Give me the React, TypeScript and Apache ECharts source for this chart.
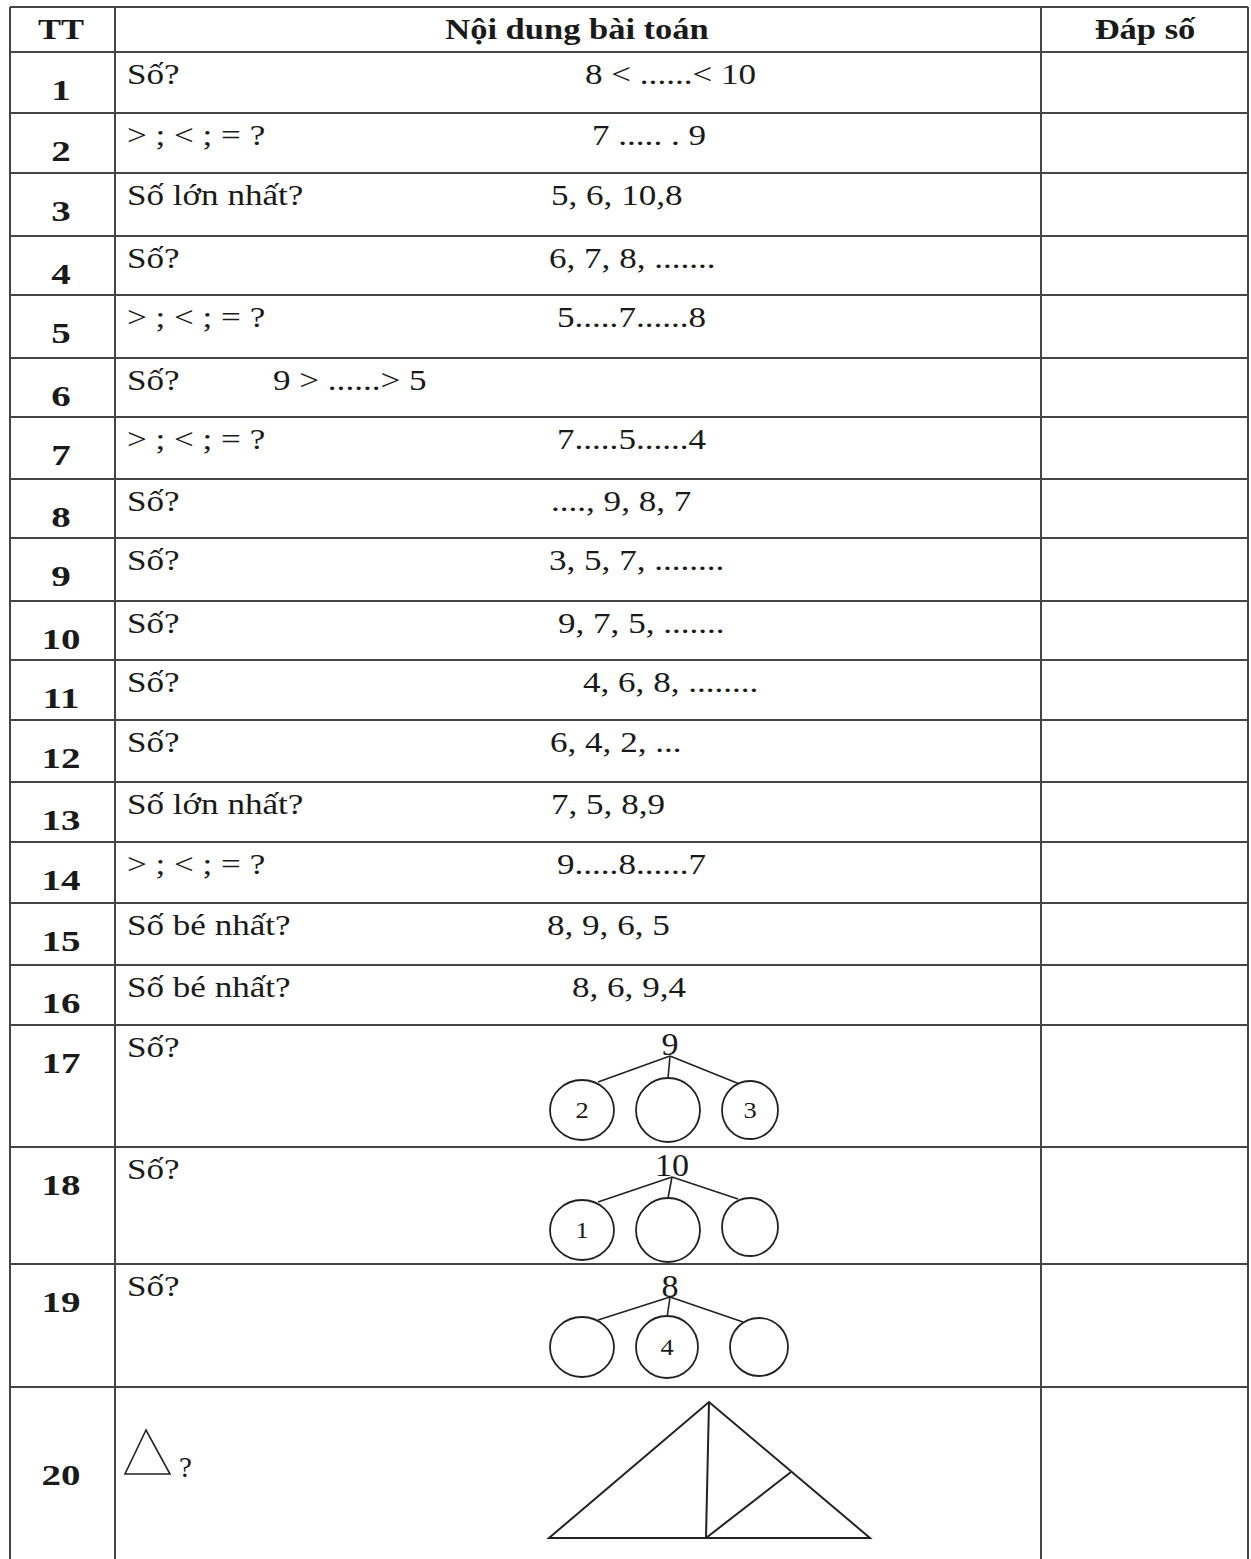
import React, { useEffect, useRef } from "react";
import * as echarts from "echarts";

// ---------- data ----------
const HEADERS = ["TT", "Nội dung bài toán", "Đáp số"];
const ROW_NUMBERS = ["1", "2", "3", "4", "5", "6", "7", "8", "9", "10", "11", "12", "13", "14", "15", "16", "17", "18", "19", "20"];
const PROMPTS = [
  "Số?", "> ; < ; = ?", "Số lớn nhất?", "Số?", "> ; < ; = ?",
  "Số?", "> ; < ; = ?", "Số?", "Số?", "Số?",
  "Số?", "Số?", "Số lớn nhất?", "> ; < ; = ?", "Số bé nhất?",
  "Số bé nhất?", "Số?", "Số?", "Số?", "",
];
const EXPRESSIONS = [
  "8 < ......< 10", "7 ..... . 9", "5, 6, 10,8", "6, 7, 8, .......", "5.....7......8",
  "9 > ......> 5", "7.....5......4", "...., 9, 8, 7", "3, 5, 7, ........", "9, 7, 5, .......",
  "4, 6, 8, ........", "6, 4, 2, ...", "7, 5, 8,9", "9.....8......7", "8, 9, 6, 5",
  "8, 6, 9,4", "", "", "", "",
];
const TREE_ROOTS = ["9", "10", "8"];
const TREE_LEAVES = [["2", "", "3"], ["1", "", ""], ["", "4", ""]];
const SHAPE_QUESTION = "?";

// ---------- layout ----------
const ROW_LINES = [7, 52, 113, 173, 236, 295, 358, 417, 479, 538, 601, 660, 720, 782, 842, 903, 965, 1025, 1147, 1264, 1387];
const COL_LINES = [10, 115, 1041, 1248];
const PAGE_BOTTOM = 1559;
const EXPR_X = [585, 592, 551, 549, 557, 273, 557, 551, 549, 558, 583, 550, 551, 557, 547, 572, 0, 0, 0, 0];
const HEADER_X = [61, 577, 1145];
const TREE_LAYOUT = [
  { label: [670, 1045], apex: [670, 1056], circles: [[582, 1110, 32, 30], [668, 1110, 32, 32], [750, 1110, 28, 29]], ends: [[598, 1082], [668, 1078], [742, 1085]] },
  { label: [672, 1166], apex: [672, 1177], circles: [[582, 1230, 32, 30], [668, 1230, 32, 32], [750, 1227, 28, 29]], ends: [[598, 1202], [668, 1198], [738, 1199]] },
  { label: [670, 1287], apex: [670, 1297], circles: [[582, 1347, 32, 30], [667, 1347, 31, 31], [759, 1347, 29, 29]], ends: [[598, 1320], [667, 1318], [743, 1322]] },
];
const BIG_TRI = [[549, 1538], [709, 1402], [870, 1538]];
const BIG_TRI_FOOT = [706, 1538];
const BIG_TRI_SIDE = [791, 1472];
const SMALL_TRI = [[146, 1430], [125, 1474], [170, 1474]];

const FONT = "'Liberation Serif', 'Times New Roman', serif";
const INK = "#1a1a1a";
const GRID = "#454545";

function txt(text: string, x: number, y: number, opts: any = {}) {
  return {
    type: "text",
    x,
    y,
    scaleX: opts.scaleX ?? 1.17,
    silent: true,
    style: {
      text,
      fill: INK,
      fontFamily: FONT,
      fontSize: opts.fontSize ?? 30,
      fontWeight: opts.bold ? "bold" : "normal",
      textAlign: opts.align ?? "left",
      align: opts.align ?? "left",
      textVerticalAlign: "middle",
      verticalAlign: "middle",
    },
  };
}

function line(x1: number, y1: number, x2: number, y2: number, color = GRID, w = 2) {
  return { type: "line", silent: true, shape: { x1, y1, x2, y2 }, style: { stroke: color, lineWidth: w } };
}

function buildElements() {
  const els: any[] = [];
  // grid
  ROW_LINES.forEach((y) => els.push(line(COL_LINES[0], y, COL_LINES[3], y)));
  COL_LINES.forEach((x) => els.push(line(x, ROW_LINES[0], x, PAGE_BOTTOM)));

  // header
  HEADERS.forEach((h, i) => els.push(txt(h, HEADER_X[i], 29, { bold: true, align: "center", scaleX: 1.15 })));

  // rows
  ROW_NUMBERS.forEach((n, i) => {
    const top = ROW_LINES[i + 1];
    const bottom = i + 2 < ROW_LINES.length ? ROW_LINES[i + 2] : PAGE_BOTTOM;
    const ny = i === ROW_NUMBERS.length - 1 ? (top + bottom) / 2 + 2 : top + 38;
    els.push(txt(n, 61, ny, { bold: true, align: "center", scaleX: 1.3 }));
    if (PROMPTS[i]) els.push(txt(PROMPTS[i], 127, top + 22));
    if (EXPRESSIONS[i]) els.push(txt(EXPRESSIONS[i], EXPR_X[i], top + 22));
  });

  // trees
  TREE_ROOTS.forEach((root, t) => {
    const L = TREE_LAYOUT[t];
    els.push(txt(root, L.label[0], L.label[1], { align: "center", scaleX: 1.1, fontSize: 31 }));
    L.ends.forEach((e) => els.push(line(L.apex[0], L.apex[1], e[0], e[1], "#222", 1.6)));
    L.circles.forEach((c, k) => {
      els.push({
        type: "ellipse",
        silent: true,
        shape: { cx: c[0], cy: c[1], rx: c[2], ry: c[3] },
        style: { fill: "#fff", stroke: "#222", lineWidth: 1.8 },
      });
      const leaf = TREE_LEAVES[t][k];
      if (leaf) els.push(txt(leaf, c[0], c[1], { align: "center", fontSize: 24, scaleX: 1.1 }));
    });
  });

  // row 20 shapes
  els.push({
    type: "polygon",
    silent: true,
    shape: { points: SMALL_TRI },
    style: { fill: "none", stroke: "#222", lineWidth: 1.6 },
  });
  els.push(txt(SHAPE_QUESTION, 179, 1467, { fontSize: 29, scaleX: 1.0 }));
  els.push({
    type: "polygon",
    silent: true,
    shape: { points: BIG_TRI },
    style: { fill: "none", stroke: "#222", lineWidth: 2 },
  });
  els.push(line(BIG_TRI[1][0], BIG_TRI[1][1], BIG_TRI_FOOT[0], BIG_TRI_FOOT[1], "#222", 2));
  els.push(line(BIG_TRI_FOOT[0], BIG_TRI_FOOT[1], BIG_TRI_SIDE[0], BIG_TRI_SIDE[1], "#222", 2));
  return els;
}

export default function App() {
  const ref = useRef<HTMLDivElement>(null);
  useEffect(() => {
    if (!ref.current) return;
    const chart = echarts.init(ref.current, undefined, { renderer: "svg" });
    chart.setOption({
      animation: false,
      backgroundColor: "#ffffff",
      graphic: { elements: buildElements() },
    });
    return () => chart.dispose();
  }, []);
  return (
    <div
      ref={ref}
      style={{ position: "absolute", left: 0, top: 0, width: 1251, height: 1559, background: "#fff" }}
    />
  );
}
